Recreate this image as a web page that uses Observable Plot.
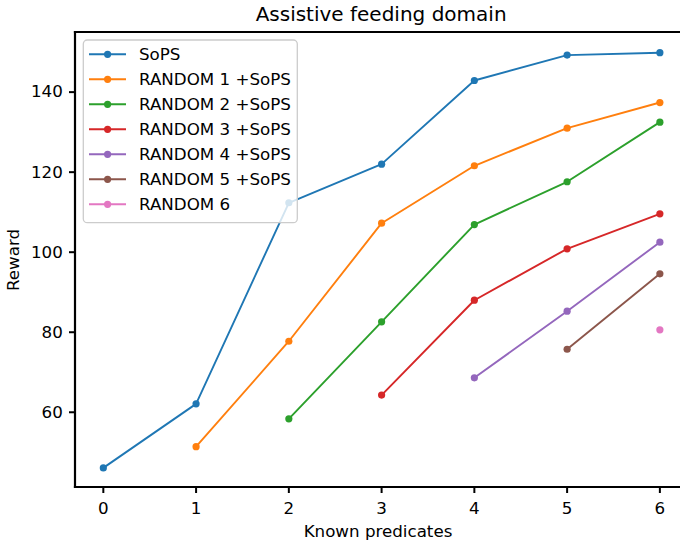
<!DOCTYPE html>
<html>
<head>
<meta charset="utf-8">
<script src="https://cdn.jsdelivr.net/npm/d3@7"></script>
<script src="https://cdn.jsdelivr.net/npm/@observablehq/plot@0.6"></script>
<style>
  body { margin: 0; background: #fff; }
  svg { font-family: "DejaVu Sans", sans-serif; }
</style>
</head>
<body>
<div id="chart"></div>
<script>
const chartTitle = "Assistive feeding domain";
const xLabel = "Known predicates";
const yLabel = "Reward";
const seriesNames = ["SoPS", "RANDOM 1 +SoPS", "RANDOM 2 +SoPS", "RANDOM 3 +SoPS", "RANDOM 4 +SoPS", "RANDOM 5 +SoPS", "RANDOM 6"];
const seriesColors = ["#1f77b4", "#ff7f0e", "#2ca02c", "#d62728", "#9467bd", "#8c564b", "#e377c2"];
const knownPredicates = [0, 1, 2, 3, 4, 5, 6];
const sops    = [46.1, 62.1, 112.35, 122.0, 142.9, 149.25, 149.85];
const random1 = [null, 51.4, 77.75, 107.25, 121.6, 131.0, 137.4];
const random2 = [null, null, 58.35, 82.6, 106.9, 117.6, 132.5];
const random3 = [null, null, null, 64.3, 88.0, 100.85, 109.6];
const random4 = [null, null, null, null, 68.6, 85.25, 102.5];
const random5 = [null, null, null, null, null, 75.75, 94.6];
const random6 = [null, null, null, null, null, null, 80.6];
const xTicks = [0, 1, 2, 3, 4, 5, 6];
const yTicks = [60, 80, 100, 120, 140];

const seriesValues = [sops, random1, random2, random3, random4, random5, random6];
const rows = [];
seriesValues.forEach((vals, i) => {
  vals.forEach((v, j) => {
    if (v != null) rows.push({series: seriesNames[i], x: knownPredicates[j], y: v});
  });
});

const seriesMarks = seriesNames.flatMap(name => {
  const d = rows.filter(r => r.series === name);
  return [
    Plot.line(d, {x: "x", y: "y", stroke: "series", strokeWidth: 1.9}),
    Plot.dot(d, {x: "x", y: "y", fill: "series", r: 3.6})
  ];
});

const plot = Plot.plot({
  width: 680,
  height: 545,
  marginLeft: 75,
  marginRight: 0,
  marginTop: 32,
  marginBottom: 58,
  style: {fontFamily: "DejaVu Sans", fontSize: "16.7px", color: "#000", background: "#fff"},
  x: {domain: [-0.3, 6.3], range: [75, 687.2]},
  y: {domain: [41.2, 154.9], range: [487, 32]},
  color: {domain: seriesNames, range: seriesColors},
  marks: [
    Plot.axisX({ticks: xTicks, tickFormat: d => String(d), tickSize: 6, tickPadding: 9, strokeWidth: 2, fontSize: 16.7,
      label: xLabel, labelAnchor: "center", labelOffset: 49, labelArrow: "none"}),
    Plot.axisY({ticks: yTicks, tickFormat: d => String(d), tickSize: 6, tickPadding: 6.7, strokeWidth: 2, fontSize: 16.7,
      label: yLabel, labelAnchor: "center", labelOffset: 68, labelArrow: "none"}),
    ...seriesMarks
  ]
});

const svg = d3.select(plot);
const xr = plot.scale("x").range;
const yr = plot.scale("y").range;
const frameLeft = xr[0], frameRight = xr[1], frameBottom = yr[0], frameTop = yr[1];

// spines
const spines = svg.append("g").attr("stroke", "#000").attr("stroke-width", 2.2).attr("stroke-linecap", "square");
spines.append("line").attr("x1", frameLeft).attr("x2", frameLeft).attr("y1", frameTop).attr("y2", frameBottom);
spines.append("line").attr("x1", frameLeft).attr("x2", frameRight).attr("y1", frameTop).attr("y2", frameTop);
spines.append("line").attr("x1", frameLeft).attr("x2", frameRight).attr("y1", frameBottom).attr("y2", frameBottom);

// title
svg.append("text")
  .attr("x", (frameLeft + frameRight) / 2)
  .attr("y", 21)
  .attr("text-anchor", "middle")
  .attr("font-size", 20)
  .attr("fill", "#000")
  .text(chartTitle);

// legend
const lg = svg.append("g").attr("text-anchor", "start");
lg.append("rect")
  .attr("x", 83.3).attr("y", 40).attr("width", 214).attr("height", 182.7)
  .attr("rx", 4).attr("fill", "#fff").attr("fill-opacity", 0.8)
  .attr("stroke", "#cccccc").attr("stroke-width", 1.3);
seriesNames.forEach((name, i) => {
  const cy = 54.3 + i * 25;
  lg.append("line").attr("x1", 89).attr("x2", 126).attr("y1", cy).attr("y2", cy)
    .attr("stroke", seriesColors[i]).attr("stroke-width", 1.9);
  lg.append("circle").attr("cx", 107.6).attr("cy", cy).attr("r", 3.6).attr("fill", seriesColors[i]);
  lg.append("text").attr("x", 139).attr("y", cy).attr("dy", "0.35em")
    .attr("text-anchor", "start")
    .attr("font-size", 16.7).attr("fill", "#000").text(name);
});

document.getElementById("chart").append(plot);
</script>
</body>
</html>
